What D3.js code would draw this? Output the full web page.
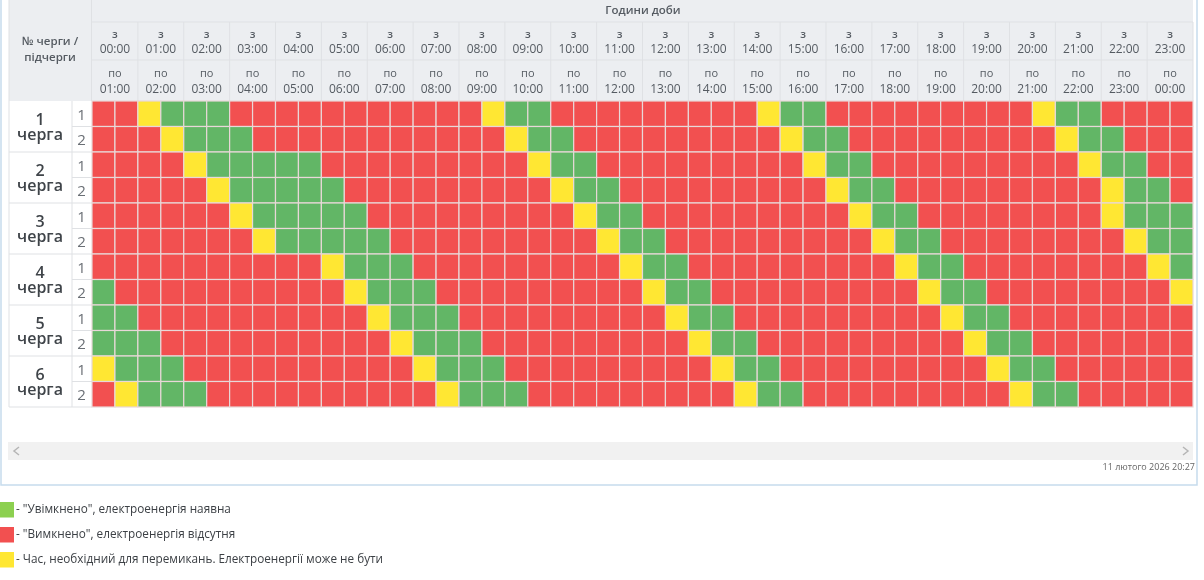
<!DOCTYPE html>
<html><head><meta charset="utf-8">
<script src="https://cdn.jsdelivr.net/npm/d3@7/dist/d3.min.js"></script>
<style>html,body{margin:0;padding:0;background:#fff;overflow:hidden}svg{display:block;filter:blur(0.7px)}text{font-family:"Open Sans",sans-serif}</style>
</head><body><svg id="c" width="1204" height="580"></svg>
<script>
const hours=d3.range(24).map(h=>String(h).padStart(2,"0")+":00");
const hoursTo=hours.slice(1).concat(["00:00"]);
const queues=["1","2","3","4","5","6"];
const subs=["1","2"];
const slots=d3.range(48);
// y = switching, g = on; every other half-hour slot is off
const q11y=[2,17,29,41], q11g=[3,4,5,18,19,30,31,42,43];
const q12y=[3,18,30,42], q12g=[4,5,6,19,20,31,32,43,44];
const q21y=[4,19,31,43], q21g=[5,6,7,8,9,20,21,32,33,44,45];
const q22y=[5,20,32,44], q22g=[6,7,8,9,10,21,22,33,34,45,46];
const q31y=[6,21,33,44], q31g=[7,8,9,10,11,22,23,34,35,45,46,47];
const q32y=[7,22,34,45], q32g=[8,9,10,11,12,23,24,35,36,46,47];
const q41y=[10,23,35,46], q41g=[11,12,13,24,25,36,37,47];
const q42y=[11,24,36,47], q42g=[0,12,13,14,25,26,37,38];
const q51y=[12,25,37], q51g=[0,1,13,14,15,26,27,38,39];
const q52y=[13,26,38], q52g=[0,1,2,14,15,16,27,28,39,40];
const q61y=[0,14,27,39], q61g=[1,2,3,15,16,17,28,29,40,41];
const q62y=[1,15,28,40], q62g=[2,3,4,16,17,18,29,30,41,42];
const switching=[q11y,q12y,q21y,q22y,q31y,q32y,q41y,q42y,q51y,q52y,q61y,q62y];
const powered=[q11g,q12g,q21g,q22g,q31g,q32g,q41g,q42g,q51g,q52g,q61g,q62g];
const legendTexts=["- \"Увімкнено\", електроенергія наявна","- \"Вимкнено\", електроенергія відсутня","- Час, необхідний для перемикань. Електроенергії може не бути"];
const legendColors=["#8cd050","#f25050","#ffe733"];

const svg=d3.select("#c");
const CELL={on:"#62b666",off:"#f25050",sw:"#ffe733"};
const x=d3.scaleBand().domain(slots).range([92,1193]);
const xh=d3.scaleBand().domain(hours).range([92,1193]);
const rowIds=d3.range(12);
const y=d3.scaleBand().domain(rowIds).range([101,407]);
const grid="#dfe1e4", head="#eceef1";

// panel
svg.append("path").attr("d","M1,0V485H1197V0").attr("fill","none").attr("stroke","#c6dced").attr("stroke-width",1.5);
// header
svg.append("rect").attr("x",9).attr("y",0).attr("width",1184).attr("height",101).attr("fill",head);
svg.append("line").attr("x1",92).attr("x2",1193).attr("y1",22).attr("y2",22).attr("stroke",grid);
svg.append("line").attr("x1",92).attr("x2",1193).attr("y1",60).attr("y2",60).attr("stroke",grid);
svg.append("line").attr("x1",91.5).attr("x2",91.5).attr("y1",0).attr("y2",101).attr("stroke",grid);
svg.selectAll(".hl").data(hours).join("line").attr("x1",d=>xh(d)+xh.bandwidth()).attr("x2",d=>xh(d)+xh.bandwidth()).attr("y1",22).attr("y2",101).attr("stroke",grid);
const ht=(s,px,py,fs,fw,fill)=>svg.append("text").attr("x",px).attr("y",py).attr("text-anchor","middle").attr("font-size",fs).attr("font-weight",fw||400).attr("fill",fill||"#555b62").text(s);
ht("Години доби",643,14,11.5,600);
ht("№ черги /",50,45,11.5,600);
ht("підчерги",50,61,11.5,600);
hours.forEach((h,i)=>{const c=xh(h)+xh.bandwidth()/2;
 ht("з",c,38,11,600);ht(h,c,52.5,12,500);ht("по",c,77,11,500);ht(hoursTo[i],c,92.5,12,500);});
// row headers
const yq=d3.scaleBand().domain(queues).range([101,407]);
svg.append("rect").attr("x",9).attr("y",101).attr("width",83).attr("height",306).attr("fill","#fff");
queues.forEach(q=>{const t=yq(q);
 const lab=ht("",40,t+23.5,16,600,"#3f4449");
 lab.append("tspan").attr("x",40).attr("y",t+23.5).text(q);
 lab.append("tspan").attr("x",40).attr("y",t+39).text("черга");
 svg.append("line").attr("x1",9).attr("x2",92).attr("y1",t+yq.bandwidth()).attr("y2",t+yq.bandwidth()).attr("stroke",grid);
 svg.append("line").attr("x1",72).attr("x2",92).attr("y1",t+yq.bandwidth()/2).attr("y2",t+yq.bandwidth()/2).attr("stroke",grid);
});
rowIds.forEach(r=>ht(subs[r%2],81.5,y(r)+18.5,15,400,"#6a6f75"));
svg.append("line").attr("x1",72).attr("x2",72).attr("y1",101).attr("y2",407).attr("stroke",grid);
svg.append("line").attr("x1",9).attr("x2",9).attr("y1",0).attr("y2",407).attr("stroke",grid);
// cells
const cells=rowIds.flatMap(r=>slots.map(s=>({r,s,k:switching[r].includes(s)?"sw":powered[r].includes(s)?"on":"off"})));
svg.append("g").selectAll("rect").data(cells).join("rect")
 .attr("x",d=>x(d.s)).attr("y",d=>y(d.r)).attr("width",x.bandwidth()).attr("height",y.bandwidth())
 .attr("fill",d=>CELL[d.k]).attr("stroke","#e8d8d8").attr("stroke-width",1.2);
// scrollbar
svg.append("rect").attr("x",8).attr("y",442).attr("width",1185).attr("height",18).attr("fill","#f1f1f1");
svg.append("path").attr("d","M19,447l-5,4l5,4").attr("fill","none").attr("stroke","#b5b5b5").attr("stroke-width",1.5);
svg.append("path").attr("d","M1183,447l5,4l-5,4").attr("fill","none").attr("stroke","#b5b5b5").attr("stroke-width",1.5);
svg.append("text").attr("x",1195).attr("y",470).attr("text-anchor","end").attr("font-size",9).attr("fill","#666").text("11 лютого 2026 20:27");
// legend
const yl=d3.scaleBand().domain(legendTexts).range([497,572]);
legendTexts.forEach((t,i)=>{
 svg.append("rect").attr("x",0).attr("y",yl(t)+5).attr("width",14).attr("height",15.5).attr("fill",legendColors[i]);
 svg.append("text").attr("x",16).attr("y",yl(t)+16).attr("font-size",11.75).attr("font-weight",500).attr("fill","#3c4045").text(t);
});
</script></body></html>
